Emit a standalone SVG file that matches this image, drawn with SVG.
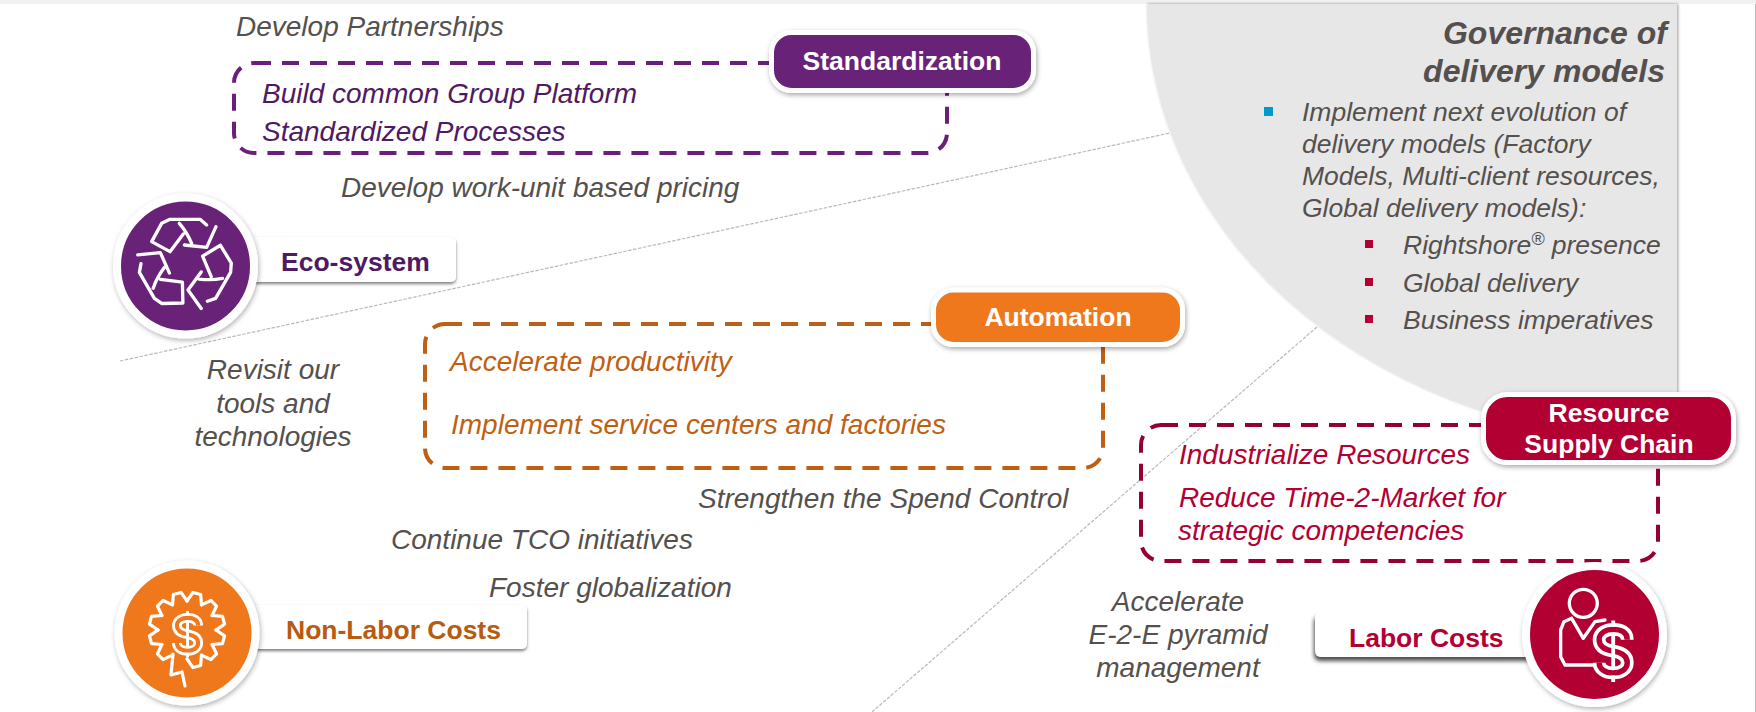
<svg xmlns="http://www.w3.org/2000/svg" xmlns:xlink="http://www.w3.org/1999/xlink" width="1756" height="712" viewBox="0 0 1756 712">
<style>
text{font-family:"Liberation Sans",Arial,sans-serif}
.g{font-size:28px;font-style:italic;fill:#55504d}
.c{text-anchor:middle}
.g.s{font-size:26.5px}
.pu{font-size:28px;font-style:italic;fill:#4f1a63}
.or{font-size:28px;font-style:italic;fill:#bf5f13}
.cr{font-size:28px;font-style:italic;fill:#b30033}
.lab{font-size:26.5px;font-weight:bold}
.pt{font-size:26.5px;font-weight:bold;fill:#fff;text-anchor:middle}
.dash{fill:none;stroke-width:4;stroke-dasharray:17 11}
.pill{stroke:#fff;stroke-width:5;filter:url(#sh)}
.ring{stroke:#fff;stroke-width:8;filter:url(#sh2)}
.label{fill:#fff;filter:url(#sh3)}
.ic{fill:none;stroke:#fff;stroke-width:10;stroke-linejoin:round;stroke-linecap:round}
.ic2{fill:none;stroke:#fff;stroke-width:3.2;stroke-linejoin:round;stroke-linecap:round}
.dot{fill:none;stroke:#b9b9b9;stroke-width:1.2;stroke-dasharray:3.5 1.5}
</style>
<defs>
<filter id="sh" x="-10%" y="-20%" width="120%" height="150%"><feDropShadow dx="1" dy="2" stdDeviation="2.5" flood-color="#000" flood-opacity=".35"/></filter>
<filter id="sh2" x="-15%" y="-15%" width="130%" height="130%"><feDropShadow dx="1" dy="2" stdDeviation="2.5" flood-color="#000" flood-opacity=".3"/></filter>
<filter id="sh3" x="-5%" y="-20%" width="110%" height="150%"><feDropShadow dx="0" dy="2" stdDeviation="1.6" flood-color="#000" flood-opacity=".5"/></filter>
<filter id="sh4" x="-5%" y="-20%" width="110%" height="150%"><feDropShadow dx="-1" dy="4" stdDeviation="2" flood-color="#000" flood-opacity=".7"/></filter>
<filter id="shp" x="-5%" y="-5%" width="110%" height="110%"><feDropShadow dx="1" dy="0" stdDeviation="1.5" flood-color="#000" flood-opacity=".4"/></filter>
<g id="arm"><path d="M350,195 L330,178 L240,178 L215,190 L185,245 L240,275 L280,222 M268,190 Q290,215 305,250 M283,255 L350,262 L378,200"/></g>
<path id="tooth" d="M-7.5,-28 L-4,-37.8 L4,-37.8 L7.5,-28"/>
<g id="dollar">
<path d="M26,13 C26,7 21,5 15,5 C9,5 4,8 4,13 C4,19 9,21 15,22 C21,23 26,25 26,31 C26,36 21,39 15,39 C9,39 4,36 4,31" fill="none" stroke="#fff" stroke-width="10"/>
<path d="M26,13 C26,7 21,5 15,5 C9,5 4,8 4,13 C4,19 9,21 15,22 C21,23 26,25 26,31 C26,36 21,39 15,39 C9,39 4,36 4,31" fill="none" stroke="currentColor" stroke-width="4.2"/>
<path d="M15,-2 V3 M15,41 V46 M15,8 V36" fill="none" stroke="#fff" stroke-width="3"/>
</g>
</defs>
<rect width="1756" height="712" fill="#fff"/>
<rect width="1756" height="4" fill="#f1f1f1"/>
<rect x="1755" y="4" width="1" height="708" fill="#bdbdbd"/>

<g id="governance">
<path d="M1147,4 A530,437 0 0 0 1677,441 L1677,4 Z" fill="#e7e7e7" filter="url(#shp)"/>
<text x="1667" y="44" text-anchor="end" style="font-size:32px;font-weight:bold;font-style:italic;fill:#55504d">Governance of</text>
<text x="1665" y="82" text-anchor="end" style="font-size:32px;font-weight:bold;font-style:italic;fill:#55504d">delivery models</text>
<rect x="1264" y="107" width="9" height="9" fill="#0099cc"/>
<text class="g s" x="1302" y="121">Implement next evolution of</text>
<text class="g s" x="1302" y="153">delivery models (Factory</text>
<text class="g s" x="1302" y="185">Models, Multi-client resources,</text>
<text class="g s" x="1302" y="217">Global delivery models):</text>
<rect x="1365" y="240" width="8" height="8" fill="#b30033"/>
<text class="g s" x="1403" y="254">Rightshore<tspan dy="-9" font-size="18">®</tspan><tspan dy="9"> presence</tspan></text>
<rect x="1365" y="278" width="8" height="8" fill="#b30033"/>
<text class="g s" x="1403" y="292">Global delivery</text>
<rect x="1365" y="315" width="8" height="8" fill="#b30033"/>
<text class="g s" x="1403" y="329">Business imperatives</text>
</g>

<g id="connectors">
<line class="dot" x1="120" y1="361" x2="1170" y2="133"/>
<line class="dot" x1="1317" y1="327" x2="872" y2="712"/>
</g>

<g id="standardization">
<rect class="dash" x="234" y="63" width="713" height="90" rx="20" stroke="#6a1f7a"/>
<rect class="pill" x="771.500" y="32.500" width="262" height="58" rx="20" fill="#682078"/>
<text class="pt" x="902" y="70">Standardization</text>
<text class="pu" x="262" y="103">Build common Group Platform</text>
<text class="pu" x="262" y="141">Standardized Processes</text>
</g>

<g id="automation">
<rect class="dash" x="425" y="324" width="678" height="144" rx="20" stroke="#bf5f13"/>
<rect class="pill" x="933.500" y="290" width="249" height="54.500" rx="20" fill="#f0781e"/>
<text class="pt" x="1058" y="326">Automation</text>
<text class="or" x="450" y="371">Accelerate productivity</text>
<text class="or" x="451" y="434">Implement service centers and factories</text>
</g>

<g id="resource-supply-chain">
<rect class="dash" x="1141" y="425" width="517" height="136" rx="20" stroke="#950033"/>
<rect class="pill" x="1483.500" y="394.500" width="250" height="68" rx="24" fill="#b30033"/>
<text class="pt" x="1609" y="422">Resource</text>
<text class="pt" x="1609" y="453">Supply Chain</text>
<text class="cr" x="1179" y="464">Industrialize Resources</text>
<text class="cr" x="1179" y="507">Reduce Time-2-Market for</text>
<text class="cr" x="1178" y="540">strategic competencies</text>
</g>

<g id="eco-system">
<rect class="label" x="230" y="237" width="226" height="45" rx="5"/>
<circle class="ring" cx="185.500" cy="266" r="68.500" fill="#682078"/>
<g class="ic" transform="translate(90,160) scale(.3333)">
<use href="#arm"/>
<use href="#arm" transform="rotate(120 285 310)"/>
<use href="#arm" transform="rotate(240 285 310)"/>
</g>
<text class="lab" x="281" y="271" fill="#4f1a63">Eco-system</text>
</g>

<g id="non-labor-costs">
<rect class="label" x="230" y="605" width="297" height="44" rx="5"/>
<circle class="ring" cx="187" cy="633" r="68.500" fill="#f0781e"/>
<g class="ic2" transform="translate(187,630)">
<use href="#tooth" transform="rotate(15)"/><use href="#tooth" transform="rotate(45)"/><use href="#tooth" transform="rotate(75)"/><use href="#tooth" transform="rotate(105)"/><use href="#tooth" transform="rotate(135)"/><use href="#tooth" transform="rotate(165)"/><use href="#tooth" transform="rotate(225)"/><use href="#tooth" transform="rotate(255)"/><use href="#tooth" transform="rotate(285)"/><use href="#tooth" transform="rotate(315)"/><use href="#tooth" transform="rotate(345)"/>
<path d="M-14,24 L-16,45 L-5,42 L-2,56"/>
</g>
<use href="#dollar" transform="translate(173,613) scale(.97)" style="color:#f0781e"/>
<text class="lab" x="286" y="639" fill="#b85a10">Non-Labor Costs</text>
</g>

<g id="labor-costs">
<rect x="1315" y="612" width="245" height="45" rx="6" fill="#fff" filter="url(#sh4)"/>
<circle class="ring" cx="1594.500" cy="634.500" r="68.500" fill="#b30033"/>
<g class="ic" transform="translate(1290,550) scale(.3333)">
<circle cx="880" cy="160" r="42"/>
<path d="M845,205 L822,215 L812,240 V320 L825,345 H925 M845,205 L880,265 L915,215 L945,210"/>
</g>
<use href="#dollar" transform="translate(1594,623) scale(1.28,1.28)" style="color:#b30033"/>
<text class="lab" x="1349" y="647" fill="#b30033">Labor Costs</text>
</g>

<g id="notes">
<text class="g" x="236" y="36">Develop Partnerships</text>
<text class="g" x="341" y="197">Develop work-unit based pricing</text>
<text class="g c" x="273" y="379">Revisit our</text>
<text class="g c" x="273" y="413">tools and</text>
<text class="g c" x="273" y="446">technologies</text>
<text class="g" x="698" y="508">Strengthen the Spend Control</text>
<text class="g" x="391" y="549">Continue TCO initiatives</text>
<text class="g" x="489" y="597">Foster globalization</text>
<text class="g c" x="1178" y="611">Accelerate</text>
<text class="g c" x="1178" y="644">E-2-E pyramid</text>
<text class="g c" x="1178" y="677">management</text>
</g>
</svg>
